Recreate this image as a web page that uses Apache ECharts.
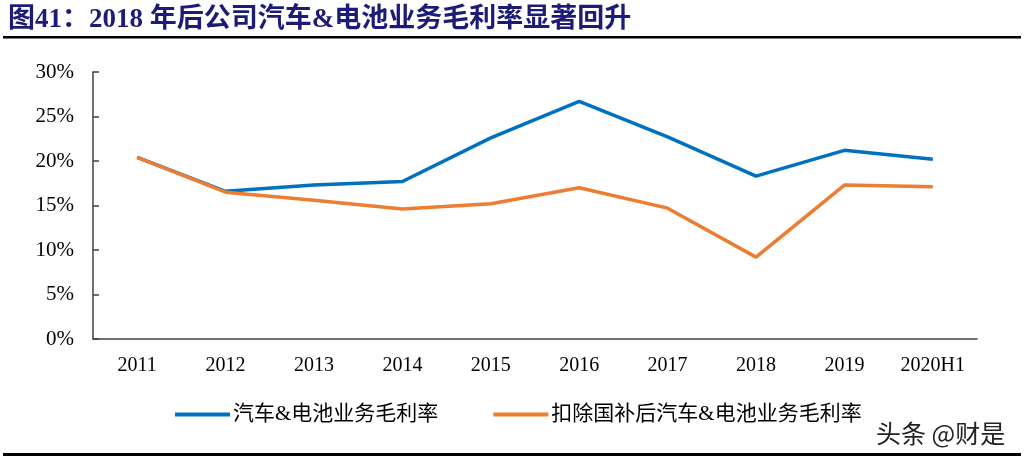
<!DOCTYPE html>
<html><head><meta charset="utf-8">
<script src="https://cdn.jsdelivr.net/npm/echarts@6/dist/echarts.min.js"></script>
<style>html,body{margin:0;padding:0;background:#fff}#c{width:1024px;height:462px}</style>
</head><body><div id="c"></div>
<script>
var categories = ['2011','2012','2013','2014','2015','2016','2017','2018','2019','2020H1'];
var grossMargin = [20.4, 16.6, 17.3, 17.7, 22.6, 26.7, 22.7, 18.3, 21.2, 20.2];
var marginExSubsidy = [20.4, 16.5, 15.6, 14.6, 15.2, 17.0, 14.7, 9.2, 17.3, 17.1];
var seriesNames = ['汽车&电池业务毛利率', '扣除国补后汽车&电池业务毛利率'];
var titleText = '图41：2018 年后公司汽车&电池业务毛利率显著回升';
var watermark = '头条 @财是';

var chart = echarts.init(document.getElementById('c'));
var serif = '"Liberation Serif","Times New Roman","Noto Sans CJK SC",serif';
chart.setOption({
  animation: false,
  title: {
    text: titleText, left: 3, top: 2,
    textStyle: {fontFamily: serif, fontWeight: 'bold', fontSize: 27, color: '#1c1c78'}
  },
  graphic: [
    {type: 'rect', shape: {x: 3, y: 36, width: 1018, height: 2.5}, style: {fill: '#000'}},
    {type: 'rect', shape: {x: 3, y: 453, width: 1018, height: 3}, style: {fill: '#000'}},
    {type: 'text', left: 876, top: 421, style: {text: watermark, fontSize: 25, fill: '#222', fontFamily: '"Noto Sans CJK SC",sans-serif'}}
  ],
  legend: {
    left: 170, top: 399, itemGap: 55, itemWidth: 55, itemHeight: 4,
    icon: 'rect',
    textStyle: {fontFamily: serif, fontSize: 21, color: '#000', padding: [0,0,0,-2]},
    data: seriesNames
  },
  grid: {left: 93, right: 47, top: 72, bottom: 123},
  xAxis: {
    type: 'category', data: categories, boundaryGap: true,
    axisLine: {lineStyle: {color: '#404040', width: 1.5}},
    axisTick: {inside: true, length: 6, lineStyle: {color: '#404040', width: 1.5}},
    axisLabel: {fontFamily: serif, fontSize: 20, color: '#000', margin: 17}
  },
  yAxis: {
    type: 'value', min: 0, max: 30, interval: 5,
    splitLine: {show: false},
    axisLine: {show: true, lineStyle: {color: '#404040', width: 1.5}},
    axisTick: {show: true, inside: true, length: 6, lineStyle: {color: '#404040', width: 1.5}},
    axisLabel: {formatter: '{value}%', fontFamily: serif, fontSize: 21, color: '#000', margin: 19}
  },
  series: [
    {name: seriesNames[0], type: 'line', data: grossMargin, symbol: 'none', z: 2,
     lineStyle: {color: '#0070c0', width: 3.5}, itemStyle: {color: '#0070c0'}},
    {name: seriesNames[1], type: 'line', data: marginExSubsidy, symbol: 'none', z: 3,
     lineStyle: {color: '#ed7d31', width: 3.5}, itemStyle: {color: '#ed7d31'}}
  ]
});
</script></body></html>
